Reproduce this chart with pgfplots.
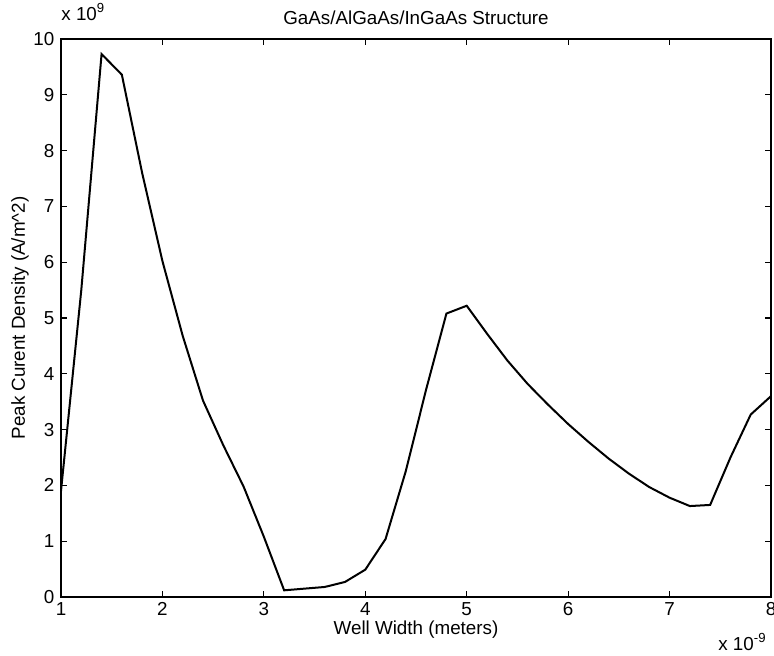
\documentclass[border=0pt]{standalone}
\usepackage{fontspec}
\setmainfont{Liberation Sans}
\usepackage{pgfplots}
\pgfplotsset{compat=1.18}

% peak current density against well width (x in 1e-9 m, y in 1e9 A/m^2)
\pgfplotstableread{
w    j
1.0  1.90
1.2  5.50
1.4  9.73
1.6  9.36
1.8  7.60
2.0  6.02
2.2  4.68
2.4  3.52
2.6  2.72
2.8  1.98
3.0  1.08
3.2  0.12
3.4  0.15
3.6  0.18
3.8  0.27
4.0  0.49
4.2  1.04
4.4  2.26
4.6  3.72
4.8  5.08
5.0  5.22
5.2  4.72
5.4  4.24
5.6  3.82
5.8  3.45
6.0  3.10
6.2  2.78
6.4  2.48
6.6  2.21
6.8  1.97
7.0  1.78
7.2  1.63
7.4  1.65
7.6  2.50
7.8  3.27
8.0  3.60
}\peakdata

\begin{document}
\fontsize{9.4}{11.3}\selectfont
\begin{tikzpicture}
\begin{axis}[
  name=main,
  at={(0,0)}, anchor=south west,
  scale only axis,
  width=355pt, height=279pt,
  xmin=1, xmax=8, ymin=0, ymax=10,
  xtick={1,2,...,8},
  ytick={0,1,...,10},
  tick align=inside,
  major tick length=3pt,
  axis line style={line width=0.75pt},
  every tick/.style={black, line width=0.6pt},
  /pgf/number format/assume math mode=true,
  xticklabel style={anchor=base, yshift=-9pt},
  yticklabel style={anchor=east},
  title={GaAs/AlGaAs/InGaAs Structure},
  title style={at={(axis description cs:0.5,1)}, anchor=base, yshift=1.2pt, inner sep=0pt},
  xlabel={Well Width (meters)},
  xlabel style={at={(axis description cs:0.5,0)}, anchor=base, yshift=-18.5pt, inner sep=0pt},
  ylabel={Peak Curent Density (A/m\textasciicircum 2)},
  ylabel style={at={(axis description cs:-0.0577,0.5)}, anchor=center, inner sep=0pt},
]
\addplot[black, line width=1pt, mark=none] table[x=w, y=j] {\peakdata};
\end{axis}
\node[anchor=base west, inner sep=0pt] at ([yshift=9.5pt]main.north west) {x 10\textsuperscript{9}};
\node[anchor=base east, inner sep=0pt] at ([xshift=-2pt, yshift=-26.5pt]main.south east) {x 10\textsuperscript{-9}};
\pgfresetboundingbox
\path[use as bounding box] (-30.5pt,-29pt) rectangle (356.5pt,298.5pt);
\end{tikzpicture}
\end{document}
